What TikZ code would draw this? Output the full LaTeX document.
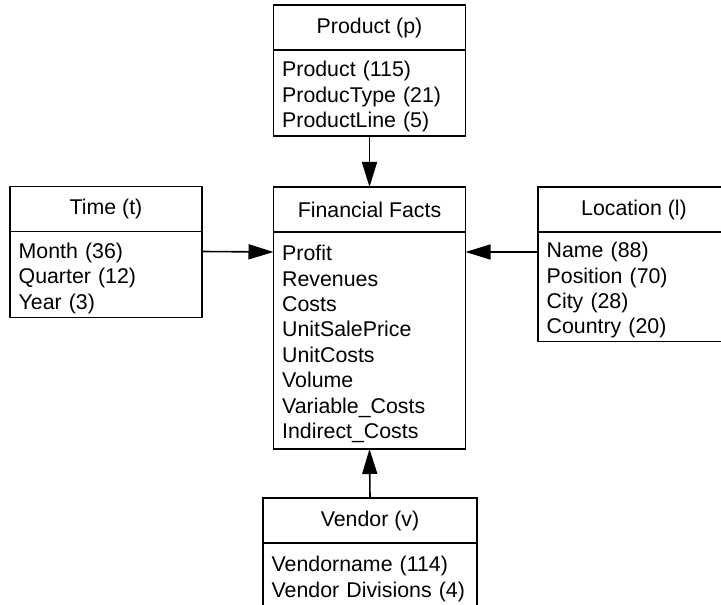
\documentclass[tikz,border=0pt]{standalone}
\usepackage{fontspec}
\setmainfont{Liberation Sans}
\usetikzlibrary{arrows.meta,positioning}

\begin{document}
\begin{tikzpicture}[x=0.75pt,y=-0.75pt,->,>={Triangle[length=18.75pt,width=11.25pt]},
  line width=1.2pt,font=\fontsize{16}{19.1}\selectfont,
  head node/.style={rectangle,draw,outer sep=0pt,minimum width=144pt,minimum height=33.75pt,inner sep=0pt},
  body node/.style={rectangle,draw,outer sep=0pt,text width=131pt,inner xsep=6.5pt,inner ysep=0pt,align=left,
    execute at begin node=\rule{0pt}{17pt}}]

  \useasboundingbox (0,0) rectangle (721,605);

  \node[head node] (fhead) at (369.5,209.5) {Financial Facts};
  \node[body node,minimum height=162.75pt] (fbody) [below=0pt of fhead]
    {Profit\\Revenues\\Costs\\UnitSalePrice\\UnitCosts\\Volume\\Variable\_Costs\\Indirect\_Costs};

  \node[head node] (phead) at (369.5,27.5) {Product (p)};
  \node[body node,minimum height=64.5pt] (pbody) [below=0pt of phead]
    {Product (115)\\ProducType (21)\\ProductLine (5)};

  \node[head node] (thead) at (106,209) {Time (t)};
  \node[body node,minimum height=64.5pt] (tbody) [below=0pt of thead]
    {Month (36)\\Quarter (12)\\Year (3)};

  \node[head node] (lhead) at (634,209.5) {Location (l)};
  \node[body node,minimum height=82pt] (lbody) [below=0pt of lhead]
    {Name (88)\\Position (70)\\City (28)\\Country (20)};

  \node[head node,minimum width=160.5pt] (vhead) at (370,520.5) {Vendor (v)};
  \node[body node,text width=147.5pt,minimum height=48.75pt] (vbody) [below=0pt of vhead]
    {Vendorname (114)\\Vendor Divisions (4)};

  \draw (pbody.south) -- (fhead.north);
  \draw ([yshift=-15pt]tbody.north east) -- ([yshift=-15pt]fbody.north west);
  \draw ([yshift=-15pt]lbody.north west) -- ([yshift=-15pt]fbody.north east);
  \draw (vhead.north) -- (fbody.south);

\end{tikzpicture}
\end{document}
